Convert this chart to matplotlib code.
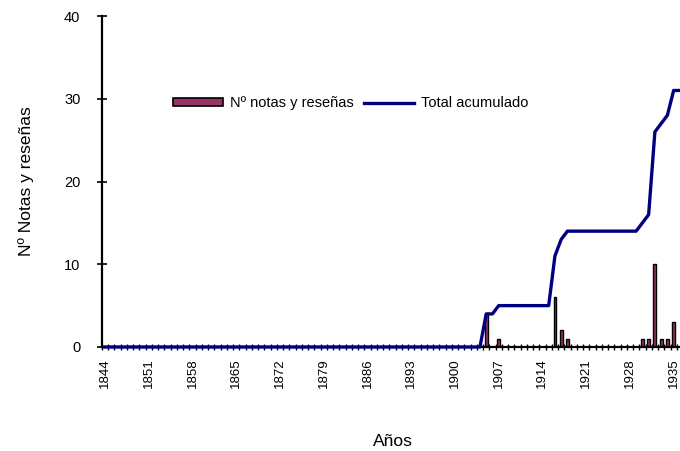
"notas y reseñas por año + total acumulado"
import numpy as np
import matplotlib.pyplot as plt
from matplotlib.patches import Patch
from matplotlib.lines import Line2D

plt.rcParams['font.family'] = ['Liberation Sans', 'DejaVu Sans']

"data"
years = list(range(1844, 1937))
notas = [0, 0, 0, 0, 0, 0, 0, 0, 0, 0,   # 1844-1853
         0, 0, 0, 0, 0, 0, 0, 0, 0, 0,   # 1854-1863
         0, 0, 0, 0, 0, 0, 0, 0, 0, 0,   # 1864-1873
         0, 0, 0, 0, 0, 0, 0, 0, 0, 0,   # 1874-1883
         0, 0, 0, 0, 0, 0, 0, 0, 0, 0,   # 1884-1893
         0, 0, 0, 0, 0, 0, 0, 0, 0, 0,   # 1894-1903
         0, 4, 0, 1, 0, 0, 0, 0, 0, 0,   # 1904-1913
         0, 0, 6, 2, 1, 0, 0, 0, 0, 0,   # 1914-1923
         0, 0, 0, 0, 0, 0, 1, 1, 10, 1,  # 1924-1933
         1, 3, 0]                        # 1934-1936
total = [0, 0, 0, 0, 0, 0, 0, 0, 0, 0,
         0, 0, 0, 0, 0, 0, 0, 0, 0, 0,
         0, 0, 0, 0, 0, 0, 0, 0, 0, 0,
         0, 0, 0, 0, 0, 0, 0, 0, 0, 0,
         0, 0, 0, 0, 0, 0, 0, 0, 0, 0,
         0, 0, 0, 0, 0, 0, 0, 0, 0, 0,
         0, 4, 4, 5, 5, 5, 5, 5, 5, 5,
         5, 5, 11, 13, 14, 14, 14, 14, 14, 14,
         14, 14, 14, 14, 14, 14, 15, 16, 26, 27,
         28, 31, 31]
tick_years = list(range(1844, 1937, 7))

x = np.arange(len(years))

fig = plt.figure(figsize=(6.8, 4.51), dpi=100)
ax = fig.add_axes([102/680, 104/451, 581/680, 331/451])

ax.bar(x, notas, width=0.45, color='#993366', edgecolor='black', linewidth=1.0, zorder=2)
ax.plot(x, total, color='#000080', linewidth=2.4, solid_joinstyle='round',
        zorder=3, clip_on=False)

ax.set_xlim(-0.5, len(years) - 0.5)
ax.set_ylim(0, 40)
ax.set_yticks([0, 10, 20, 30, 40])

tick_pos = [years.index(y) for y in tick_years]
ax.set_xticks(tick_pos)
ax.set_xticklabels([str(y) for y in tick_years], rotation=90, fontsize=9.5)
ax.set_xticks(np.arange(-0.5, len(years), 1), minor=True)
ax.tick_params(axis='x', which='major', length=0, pad=8)
ax.tick_params(axis='x', which='minor', direction='inout', length=5, width=1)
ax.tick_params(axis='y', direction='inout', length=7, width=1.2, labelsize=10.5, pad=12)

for s in ['top', 'right']:
    ax.spines[s].set_visible(False)
ax.spines['left'].set_linewidth(1.6)
ax.spines['bottom'].set_linewidth(1.6)

ax.set_ylabel('Nº Notas y reseñas', fontsize=12.5, labelpad=22)
ax.set_xlabel('Años', fontsize=12.5, labelpad=33)

handles = [Patch(facecolor='#993366', edgecolor='black', linewidth=1.2),
           Line2D([0], [0], color='#000080', linewidth=2.4)]
ax.legend(handles, ['Nº notas y reseñas', 'Total acumulado'], loc='center left',
          bbox_to_anchor=(0.10, 0.737), ncol=2, frameon=False, fontsize=10.5,
          handlelength=3.4, handleheight=0.4, handletextpad=0.5, columnspacing=0.7)

fig.savefig('out.png', dpi=100)
